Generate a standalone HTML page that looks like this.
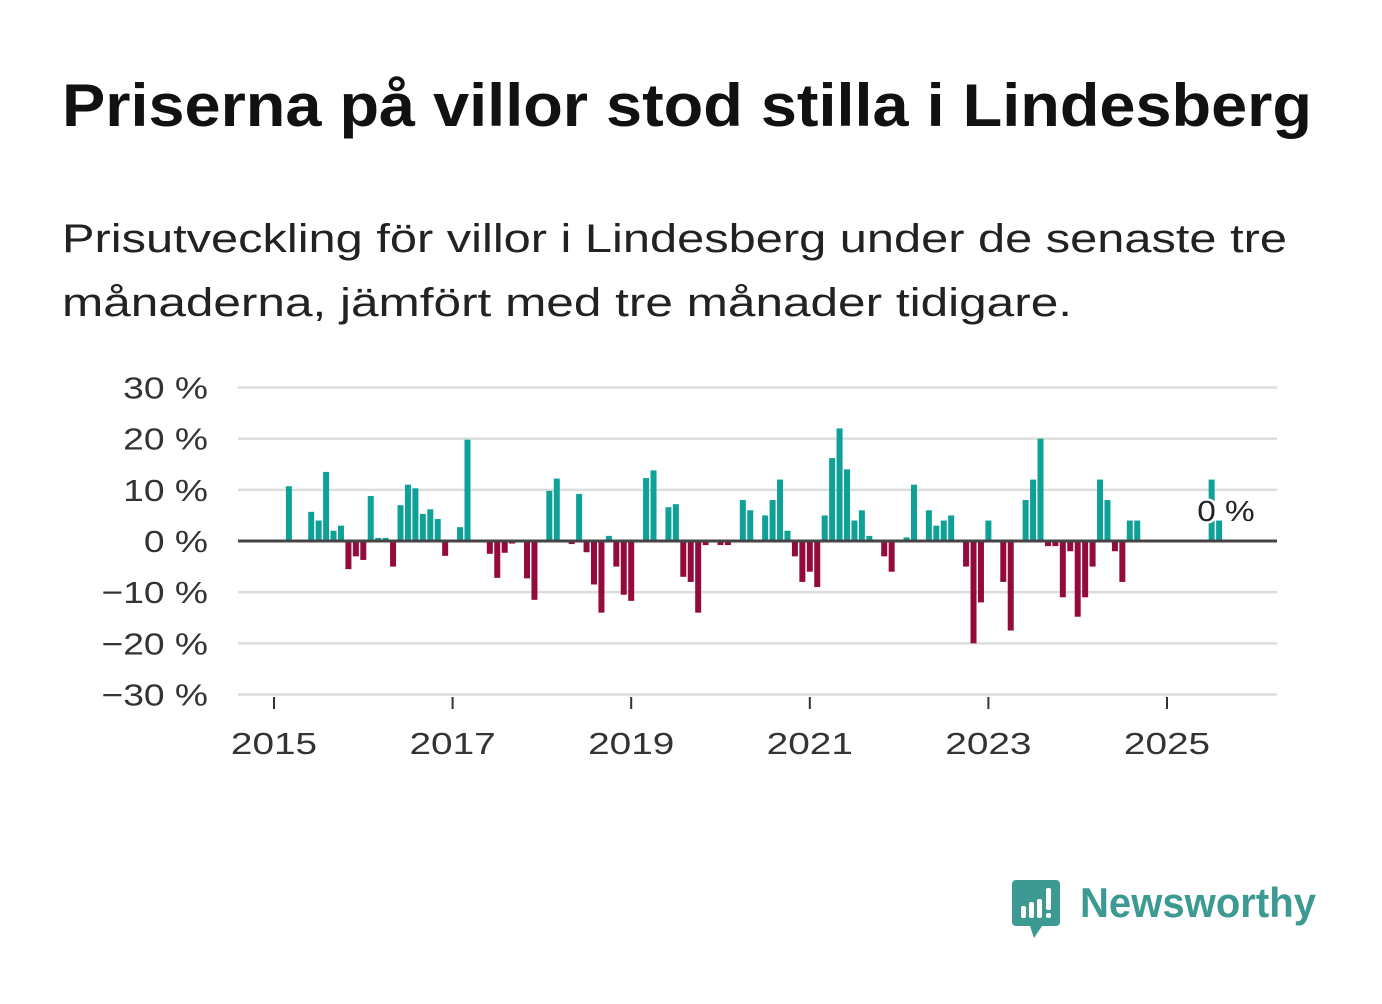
<!DOCTYPE html>
<html><head><meta charset="utf-8"><style>
body{margin:0;background:#fff;width:1382px;height:999px;overflow:hidden;font-family:"Liberation Sans","DejaVu Sans",sans-serif;}
</style></head><body>
<svg width="1382" height="999" xmlns="http://www.w3.org/2000/svg">
<text x="62" y="126" font-size="60" font-weight="bold" fill="#111" textLength="1250" lengthAdjust="spacingAndGlyphs">Priserna på villor stod stilla i Lindesberg</text>
<text x="62" y="252" font-size="40" fill="#222" textLength="1225" lengthAdjust="spacingAndGlyphs">Prisutveckling för villor i Lindesberg under de senaste tre</text>
<text x="62" y="316" font-size="40" fill="#222" textLength="1010" lengthAdjust="spacingAndGlyphs">månaderna, jämfört med tre månader tidigare.</text>
<g id="grid"></g><g id="bars"></g><g id="axes"></g>
<g>
<path d="M1016 880 h40 a4 4 0 0 1 4 4 v38 a4 4 0 0 1 -4 4 h-14 l-8 12 l-4 -12 h-14 a4 4 0 0 1 -4 -4 v-38 a4 4 0 0 1 4 -4z" fill="#3d9a92"/>
<rect x="1021" y="906" width="5" height="12" rx="2" fill="#fff"/><rect x="1029" y="902" width="5" height="16" rx="2" fill="#fff"/><rect x="1037" y="899" width="5" height="19" rx="2" fill="#fff"/><rect x="1046" y="888" width="5" height="22" rx="2" fill="#fff"/><rect x="1046" y="913" width="5" height="5" rx="2" fill="#fff"/>
<text x="1080" y="917" font-size="42" font-weight="bold" fill="#3d9a92" textLength="236" lengthAdjust="spacingAndGlyphs">Newsworthy</text>
</g>
</svg>
<script>
const months=[2,5,6,7,8,9,10,11,12,13,14,15,16,17,18,19,20,21,22,23,25,26,29,30,31,32,34,35,37,38,40,41,42,43,44,45,46,47,48,50,51,53,54,55,56,57,58,60,61,63,64,66,67,68,69,70,71,72,73,74,75,76,77,78,79,80,82,83,85,86,88,89,90,91,93,94,95,96,98,99,101,102,103,104,105,106,107,108,109,110,111,112,113,114,115,116,126,127];
const values=[10.7,5.7,4,13.5,2,3,-5.5,-3,-3.7,8.8,0.6,0.6,-5,7,11,10.3,5.3,6.2,4.3,-2.9,2.7,19.8,-2.5,-7.2,-2.3,-0.5,-7.3,-11.5,9.8,12.2,-0.6,9.2,-2.2,-8.5,-14,1,-5,-10.5,-11.7,12.3,13.8,6.6,7.2,-7,-8,-14,-0.8,-0.8,-0.8,8,6,5,8,12,2,-3,-8,-6,-9,5,16.2,22,14,4,6,1,-3,-6,0.7,11,6,3,4,5,-5,-20,-12,4,-8,-17.5,8,12,20,-1,-1,-11,-2,-14.8,-11,-5,12,8,-2,-8,4,4,12,4];
const yTicks=[30,20,10,0,-10,-20,-30];
const yLabels=["30 %","20 %","10 %","0 %","−10 %","−20 %","−30 %"];
const xYears=[2015,2017,2019,2021,2023,2025];
const NS="http://www.w3.org/2000/svg";
const y=v=>541-v*5.117;
const x=m=>274+m*(89.3/12);
function mk(t,a,p){const e=document.createElementNS(NS,t);for(const k in a)e.setAttribute(k,a[k]);p.appendChild(e);return e;}
function widen(t,f){const w=t.getComputedTextLength();t.setAttribute('textLength',w*f);t.setAttribute('lengthAdjust','spacingAndGlyphs');}
const g=document.getElementById('grid'),b=document.getElementById('bars'),ax=document.getElementById('axes');
yTicks.forEach((v,i)=>{
 const l=mk('line',{x1:238,x2:1277,y1:y(v),y2:y(v),stroke:v===0?'#444':'#ddd','stroke-width':v===0?3:2.5},v===0?ax:g);
 
 
 const t=mk('text',{x:208,y:y(v)+11,'text-anchor':'end','font-size':31,fill:'#333'},ax);
 t.textContent=yLabels[i];
 
 
 widen(t,1.2);
});
xYears.forEach(yr=>{
 const px=x((yr-2015)*12);
 const tk=mk('line',{x1:px,x2:px,y1:697,y2:709,stroke:'#333','stroke-width':2},ax);
 
 
 const t=mk('text',{x:px,y:754,'text-anchor':'middle','font-size':31,fill:'#333'},ax);
 t.textContent=yr;
 
 
 widen(t,1.25);
});
months.forEach((m,i)=>{
 const v=values[i];
 const r=mk('rect',{x:x(m)-3,width:6,y:Math.min(y(v),y(0)),height:Math.abs(y(v)-y(0)),fill:v>=0?'#0fa197':'#930b3d'},b);
 
 
});
const lb=mk('text',{x:1226,y:521,'text-anchor':'middle','font-size':29,fill:'#222',stroke:'#fff','stroke-width':5,'paint-order':'stroke'},ax);
lb.textContent='0 %';


widen(lb,1.15);
</script>
</body></html>
